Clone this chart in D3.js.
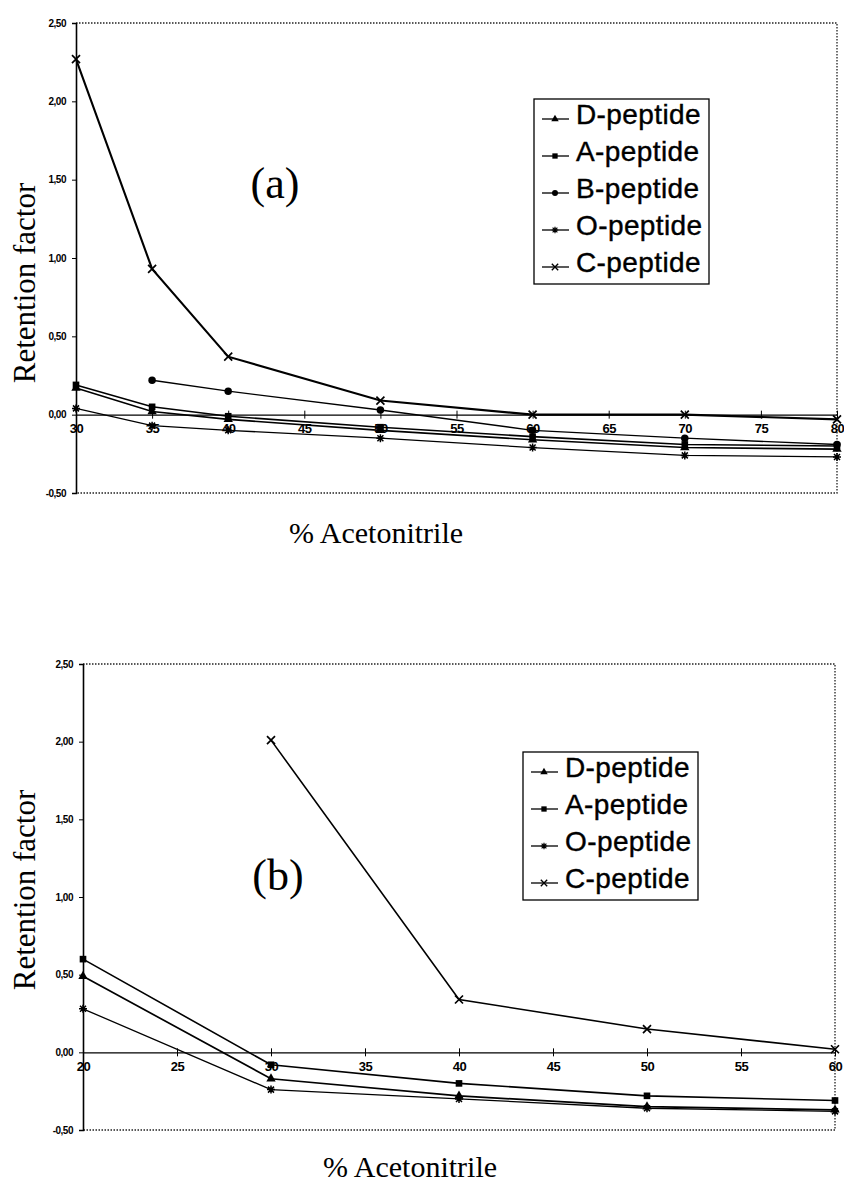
<!DOCTYPE html>
<html>
<head>
<meta charset="utf-8">
<script src="https://cdn.jsdelivr.net/npm/d3@7"></script>
<style>
  body { margin: 0; background: #fff; }
  svg { display: block; }
</style>
</head>
<body>
<svg id="chart" width="844" height="1186"></svg>
<script>
// chart (a)
var xA = [30, 35, 40, 50, 60, 70, 80];
var dA = [0.17, 0.02, -0.03, -0.10, -0.16, -0.21, -0.22];
var aA = [0.19, 0.05, -0.01, -0.08, -0.14, -0.19, -0.20];
var bA = [null, 0.22, 0.15, 0.03, -0.10, -0.15, -0.19];
var oA = [0.04, -0.07, -0.10, -0.15, -0.21, -0.26, -0.27];
var cA = [2.27, 0.93, 0.37, 0.09, 0.00, 0.00, -0.03];
var xTicksA = [30, 35, 40, 45, 50, 55, 60, 65, 70, 75, 80];

// chart (b)
var xB = [20, 30, 40, 50, 60];
var dB = [0.49, -0.17, -0.28, -0.35, -0.37];
var aB = [0.60, -0.08, -0.20, -0.28, -0.31];
var oB = [0.28, -0.24, -0.30, -0.36, -0.38];
var cB = [null, 2.01, 0.34, 0.15, 0.02];
var xTicksB = [20, 25, 30, 35, 40, 45, 50, 55, 60];

var yTicks = [-0.5, 0, 0.5, 1, 1.5, 2, 2.5];

var svg = d3.select("#chart");
var fmt = function(v){ return d3.format(".2f")(v).replace(".", ",").replace("−", "-"); };
var serif = "'Liberation Serif', 'Times New Roman', serif";
var sans = "Arial, 'Liberation Sans', sans-serif";

// marker shapes
var markers = {
    tri: function(g){ g.append("path").attr("d", d3.symbol(d3.symbolTriangle, 38)()).attr("fill", "#000"); },
    sq: function(g){ g.append("path").attr("d", d3.symbol(d3.symbolSquare, 44)()).attr("fill", "#000"); },
    dot: function(g){ g.append("path").attr("d", d3.symbol(d3.symbolCircle, 44)()).attr("fill", "#000"); },
    star: function(g){
        g.append("path").attr("d", "M-4,0H4M0,-4V4M-3,-3L3,3M-3,3L3,-3")
            .attr("stroke", "#000").attr("stroke-width", 1.5);
    },
    cross: function(g){
        g.append("path").attr("d", "M-4,-4L4,4M-4,4L4,-4")
            .attr("stroke", "#000").attr("stroke-width", 1.7);
    }
};

function drawChart(cfg){
    var x = d3.scaleLinear().domain(cfg.xDomain).range([cfg.left, cfg.right]);
    var y = d3.scaleLinear().domain([-0.5, 2.5]).range([cfg.bottom, cfg.top]);
    var g = svg.append("g");

    // dotted frame (top, right, bottom)
    g.append("path")
        .attr("d", "M" + cfg.left + "," + cfg.top + "H" + cfg.right + "V" + cfg.bottom + "H" + cfg.left)
        .attr("fill", "none").attr("stroke", "#222").attr("stroke-width", 1.3)
        .attr("stroke-dasharray", "1.5,1.5");

    // y axis
    var yAxis = g.append("g").attr("transform", "translate(" + cfg.left + ",0)")
        .call(d3.axisLeft(y).tickValues(yTicks).tickFormat(fmt).tickSize(4).tickPadding(6));
    yAxis.select(".domain").attr("stroke-width", 1.6);
    yAxis.selectAll("text").attr("font-family", sans)
        .attr("font-weight", "bold").attr("font-size", 10).attr("letter-spacing", "-0.5");

    // x axis along zero line
    var xAxis = g.append("g").attr("transform", "translate(0," + y(0) + ")")
        .call(d3.axisBottom(x).tickValues(cfg.xTicks).tickSizeInner(4).tickSizeOuter(0).tickPadding(5));
    xAxis.select(".domain").attr("stroke-width", 1.2);
    xAxis.selectAll(".tick line").attr("y1", -4).attr("y2", 4);
    xAxis.selectAll("text").attr("font-family", sans)
        .attr("font-weight", "bold").attr("font-size", 13).attr("letter-spacing", "-0.5");

    // series
    cfg.series.forEach(function(s){
        var pts = cfg.xs.map(function(v, i){ return [v, s.values[i]]; })
            .filter(function(p){ return p[1] !== null; });
        g.append("path").datum(pts)
            .attr("d", d3.line().x(function(p){ return x(p[0]); }).y(function(p){ return y(p[1]); }))
            .attr("fill", "none").attr("stroke", "#000").attr("stroke-width", s.width);
        pts.forEach(function(p){
            var m = g.append("g").attr("transform", "translate(" + x(p[0]) + "," + y(p[1]) + ")");
            markers[s.marker](m);
        });
    });

    // panel label
    g.append("text").attr("x", cfg.labelX).attr("y", cfg.labelY)
        .attr("font-family", serif).attr("font-size", 44)
        .attr("text-anchor", "middle").text(cfg.label);

    // axis titles
    g.append("text")
        .attr("transform", "translate(" + 35 + "," + cfg.yTitleY + ") rotate(-90)")
        .attr("font-family", serif).attr("font-size", 31)
        .attr("text-anchor", "middle").text("Retention factor");
    g.append("text").attr("x", cfg.xTitleX).attr("y", cfg.xTitleY)
        .attr("font-family", serif).attr("font-size", 30)
        .attr("text-anchor", "middle").text("% Acetonitrile");

    // legend
    var lg = g.append("g");
    var rowH = 37;
    lg.append("rect").attr("x", cfg.legX).attr("y", cfg.legY)
        .attr("width", cfg.legW).attr("height", cfg.series.length * rowH)
        .attr("fill", "#fff").attr("stroke", "#000").attr("stroke-width", 1.3);
    cfg.series.forEach(function(s, i){
        var cy = cfg.legY + 15 + i * rowH;
        lg.append("line").attr("x1", cfg.legX + 8).attr("x2", cfg.legX + 35)
            .attr("y1", cy + 5).attr("y2", cy + 5).attr("stroke", "#000").attr("stroke-width", 1.3);
        var m = lg.append("g").attr("transform", "translate(" + (cfg.legX + 21) + "," + (cy + 5) + ") scale(0.8)");
        markers[s.marker](m);
        lg.append("text").attr("x", cfg.legX + 42).attr("y", cy + 10)
            .attr("font-family", sans).attr("font-size", 28).attr("letter-spacing", "0.4")
            .attr("stroke", "#000").attr("stroke-width", 0.4)
            .text(s.name);
    });
}

drawChart({
    xDomain: [30, 80], xTicks: xTicksA, xs: xA,
    left: 76, right: 837, top: 23, bottom: 493,
    label: "(a)", labelX: 275, labelY: 198,
    yTitleY: 283, xTitleX: 376, xTitleY: 543,
    legX: 534, legY: 99, legW: 175,
    series: [
        { name: "D-peptide", values: dA, marker: "tri", width: 1.6 },
        { name: "A-peptide", values: aA, marker: "sq", width: 1.6 },
        { name: "B-peptide", values: bA, marker: "dot", width: 1.4 },
        { name: "O-peptide", values: oA, marker: "star", width: 1.3 },
        { name: "C-peptide", values: cA, marker: "cross", width: 2.1 }
    ]
});

drawChart({
    xDomain: [20, 60], xTicks: xTicksB, xs: xB,
    left: 83, right: 835, top: 664, bottom: 1130,
    label: "(b)", labelX: 278, labelY: 890,
    yTitleY: 890, xTitleX: 410, xTitleY: 1177,
    legX: 523, legY: 752, legW: 175,
    series: [
        { name: "D-peptide", values: dB, marker: "tri", width: 1.7 },
        { name: "A-peptide", values: aB, marker: "sq", width: 1.6 },
        { name: "O-peptide", values: oB, marker: "star", width: 1.3 },
        { name: "C-peptide", values: cB, marker: "cross", width: 1.6 }
    ]
});
</script>
</body>
</html>
